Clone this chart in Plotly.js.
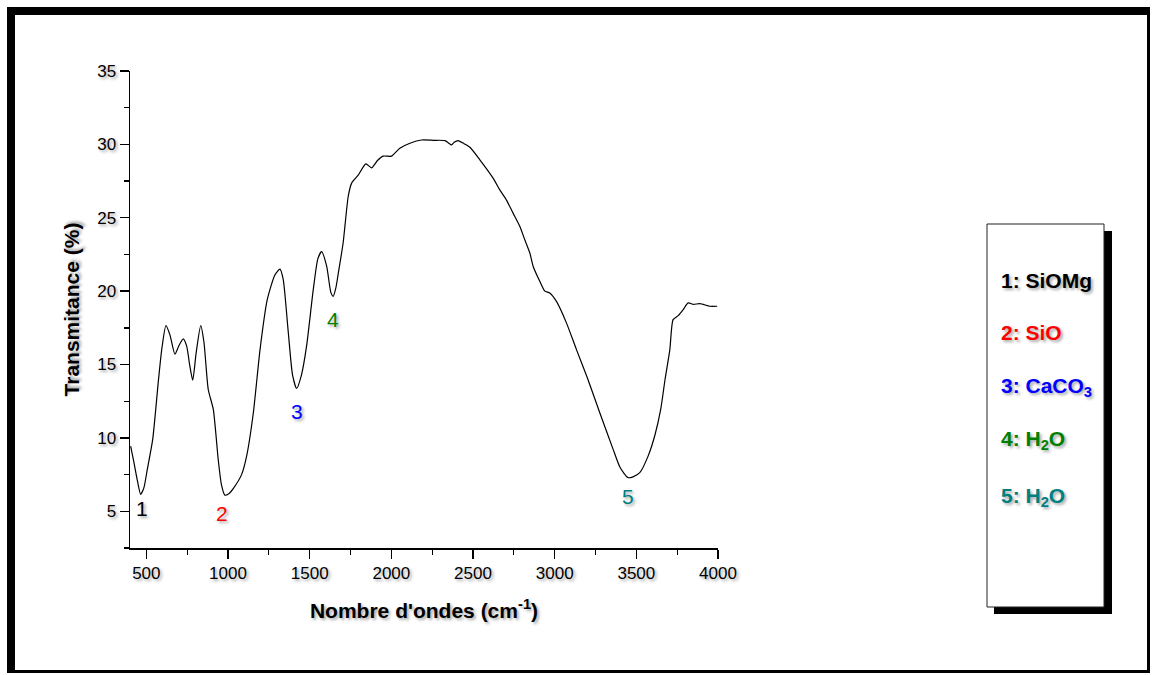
<!DOCTYPE html>
<html>
<head>
<meta charset="utf-8">
<script src="https://cdn.plot.ly/plotly-3.0.1.min.js"></script>
<style>
  html, body { margin: 0; padding: 0; background: #fff; }
  #chart { width: 1153px; height: 675px; }
  #chart .main-svg text { text-shadow: 2px 2px 3px rgba(0,0,0,0.35); }
</style>
</head>
<body>
<div id="chart"></div>
<script>
// FTIR spectrum
const wavenumber = [404, 424, 445, 465, 485, 506, 539, 573, 594, 620, 645, 675, 700, 726, 747, 765, 784, 805, 833, 853, 879, 910, 940, 960, 981, 1005, 1032, 1083, 1114, 1155, 1196, 1240, 1287, 1318, 1338, 1369, 1395, 1420, 1450, 1481, 1522, 1550, 1573, 1604, 1630, 1644, 1660, 1675, 1705, 1736, 1757, 1797, 1844, 1879, 1915, 1950, 2001, 2052, 2114, 2185, 2260, 2328, 2350, 2369, 2385, 2409, 2445, 2481, 2542, 2623, 2664, 2705, 2746, 2787, 2817, 2848, 2868, 2909, 2940, 2970, 3011, 3072, 3134, 3200, 3280, 3358, 3400, 3448, 3480, 3521, 3572, 3614, 3650, 3676, 3705, 3725, 3756, 3787, 3817, 3850, 3889, 3950, 3995];
const transmittance = [9.44, 8.33, 7.1, 6.16, 6.6, 7.86, 9.9, 13.8, 16.0, 17.65, 17.0, 15.7, 16.3, 16.75, 16.25, 15.0, 13.93, 15.8, 17.65, 16.5, 13.3, 11.94, 8.54, 6.8, 6.1, 6.2, 6.55, 7.5, 8.76, 11.7, 16.0, 19.4, 21.1, 21.5, 20.8, 17.2, 14.3, 13.37, 14.3, 16.25, 20.1, 22.2, 22.7, 21.7, 19.9, 19.65, 20.2, 21.2, 23.3, 26.45, 27.36, 27.9, 28.67, 28.4, 28.9, 29.2, 29.2, 29.74, 30.08, 30.3, 30.28, 30.26, 30.1, 29.97, 30.15, 30.26, 30.05, 29.8, 28.95, 27.7, 26.9, 26.2, 25.3, 24.4, 23.5, 22.6, 21.7, 20.67, 20.0, 19.88, 19.3, 17.84, 16.0, 14.1, 11.6, 9.22, 8.0, 7.3, 7.35, 7.63, 8.76, 10.2, 12.0, 14.0, 16.0, 18.06, 18.33, 18.74, 19.2, 19.1, 19.15, 18.97, 18.97];

// Peak labels
const peakLabels = ['1', '2', '3', '4', '5'];
const peakX = [476, 966, 1422, 1642, 3451];
const peakY = [5.2, 4.86, 11.82, 18.06, 6.04];
const peakColors = ['#000000', '#FF0000', '#0000FF', '#008000', '#008080'];

// Assignment legend
const legendTexts = ['1: SiOMg', '2: SiO', '3: CaCO<sub>3</sub>', '4: H<sub>2</sub>O', '5: H<sub>2</sub>O'];

const xTitle = "Nombre d'ondes (cm<sup>-1</sup>)";
const yTitle = 'Transmitance (%)';

// pixel -> paper helpers (plot area 130..718 x 71..548)
const L = 130, R = 718, T = 71, B = 548;
const px = v => (v - L) / (R - L);
const py = v => (B - v) / (B - T);

const FONT = 'Arial, "Liberation Sans", sans-serif';

const shapes = [
  // outer frame
  {type: 'rect', xref: 'paper', yref: 'paper', x0: px(7), x1: px(1150), y0: py(673), y1: py(7),
   fillcolor: '#000', line: {width: 0}, layer: 'below'},
  {type: 'rect', xref: 'paper', yref: 'paper', x0: px(15), x1: px(1147), y0: py(670), y1: py(15),
   fillcolor: '#fff', line: {width: 0}, layer: 'below'},
  // legend box shadow and box
  {type: 'rect', xref: 'paper', yref: 'paper', x0: px(994), x1: px(1112), y0: py(614), y1: py(231),
   fillcolor: '#000', line: {width: 0}},
  {type: 'rect', xref: 'paper', yref: 'paper', x0: px(987), x1: px(1104), y0: py(607), y1: py(224),
   fillcolor: '#fff', line: {color: '#222', width: 1}}
];

const legendY = [280, 332, 387, 440, 497];
const annotations = [];
peakLabels.forEach((t, i) => annotations.push({
  x: peakX[i], y: peakY[i], xref: 'x', yref: 'y', text: t, showarrow: false,
  font: {family: FONT, size: 21, color: peakColors[i]}
}));
legendTexts.forEach((t, i) => annotations.push({
  x: px(999), y: py(legendY[i]), xref: 'paper', yref: 'paper', text: '<b>' + t + '</b>',
  showarrow: false, xanchor: 'left', yanchor: 'middle',
  font: {family: FONT, size: 21, color: peakColors[i]}
}));

const trace = {
  x: wavenumber, y: transmittance, type: 'scatter', mode: 'lines',
  line: {color: '#000', width: 1.2, shape: 'spline', smoothing: 0.6},
  hoverinfo: 'skip'
};

const layout = {
  width: 1153, height: 675,
  margin: {l: L, r: 1153 - R, t: T, b: 675 - B, pad: 0},
  paper_bgcolor: '#fff', plot_bgcolor: 'rgba(0,0,0,0)',
  showlegend: false,
  font: {family: FONT, color: '#000'},
  xaxis: {
    range: [400, 4000], tick0: 500, dtick: 500, ticks: 'outside', ticklen: 9, tickwidth: 1.3,
    tickcolor: '#000', showline: true, linecolor: '#000', linewidth: 1.5, showgrid: false, zeroline: false,
    tickfont: {family: FONT, size: 17, color: '#000'},
    minor: {dtick: 250, ticks: 'outside', ticklen: 5, tickwidth: 1.3, tickcolor: '#000', showgrid: false},
    title: {text: '<b>' + xTitle + '</b>', font: {family: FONT, size: 21, color: '#000'}, standoff: 21}
  },
  yaxis: {
    range: [2.5, 35], tick0: 5, dtick: 5, ticks: 'outside', ticklen: 9, tickwidth: 1.3,
    tickcolor: '#000', showline: true, linecolor: '#000', linewidth: 1.5, showgrid: false, zeroline: false,
    tickfont: {family: FONT, size: 17, color: '#000'},
    minor: {dtick: 2.5, ticks: 'outside', ticklen: 5, tickwidth: 1.3, tickcolor: '#000', showgrid: false},
    title: {text: '<b>' + yTitle + '</b>', font: {family: FONT, size: 21, color: '#000'}, standoff: 12}
  },
  shapes: shapes,
  annotations: annotations
};

Plotly.newPlot('chart', [trace], layout, {displayModeBar: false, staticPlot: true});
</script>
</body>
</html>
